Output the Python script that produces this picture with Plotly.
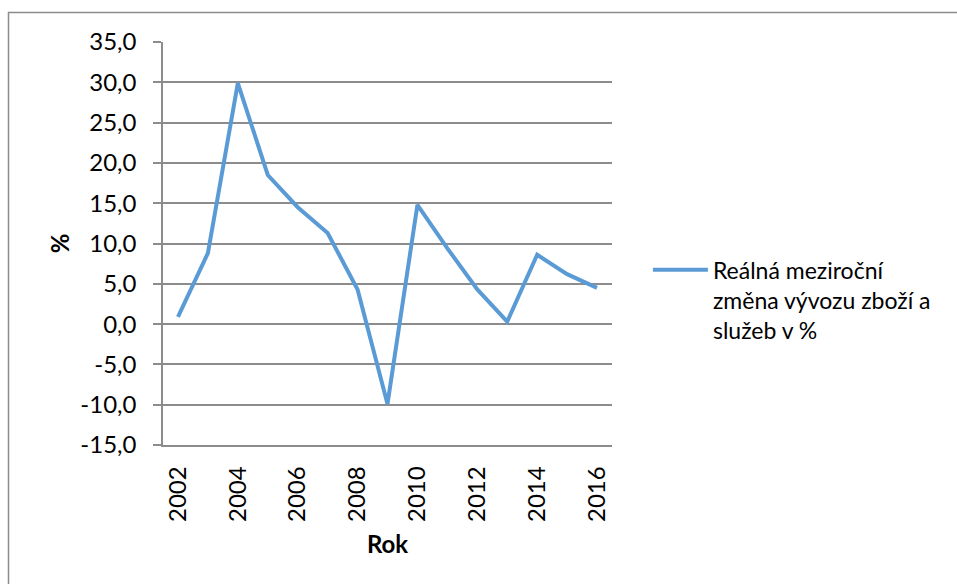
import plotly.graph_objects as go

years = list(range(2002, 2017))
values = [0.9, 8.8, 29.9, 18.5, 14.5, 11.3, 4.3, -9.9, 14.8, 9.4, 4.3, 0.3, 8.6, 6.2, 4.5]
series_name = "Reálná meziroční<br>změna vývozu zboží a<br>služeb v %"
y_ticks = [35, 30, 25, 20, 15, 10, 5, 0, -5, -10, -15]
y_tick_text = [f"{v:.1f}".replace(".", ",") for v in y_ticks]
x_ticks = list(range(2002, 2017, 2))

W, H = 957, 584
L, R, T, B = 163, 612, 42, 445
FONT = "Lato"

fig = go.Figure()
fig.add_trace(go.Scatter(
    x=years, y=values, mode="lines", name=series_name,
    line=dict(color="#5B9BD5", width=4),
    showlegend=True,
))

grid = "#8c8c8c"
fig.update_layout(
    width=W, height=H,
    margin=dict(l=L, r=W - R, t=T, b=H - B, pad=0),
    paper_bgcolor="white", plot_bgcolor="white",
    font=dict(family=FONT, size=24, color="#000000"),
    showlegend=True,
    legend=dict(x=1.08, y=0.488, xanchor="left", yanchor="top",
                valign="top", font=dict(family=FONT, size=23, color="#000000"),
                tracegroupgap=0, itemwidth=55),
    xaxis=dict(range=[2001.5, 2016.5], tickmode="array", tickvals=x_ticks,
               ticktext=[str(v) for v in x_ticks], tickangle=-90,
               showgrid=False, zeroline=False, showline=True, linecolor=grid,
               linewidth=1.5, ticks="", ticklabelstandoff=10,
               title=dict(text="<b>Rok</b>", font=dict(family=FONT, size=24), standoff=15)),
    yaxis=dict(range=[-15, 35], tickmode="array", tickvals=y_ticks, ticktext=y_tick_text,
               showgrid=True, gridcolor=grid, gridwidth=1.5, zeroline=False,
               showline=True, linecolor=grid, linewidth=1.5,
               ticks="outside", ticklen=8, tickcolor=grid, tickwidth=1.5,
               ticklabelstandoff=12,
               title=dict(text="<b>%</b>", font=dict(family=FONT, size=24), standoff=4)),
)

pw, ph = R - L, B - T
def px(xp):
    return (xp - L) / pw
def py(yp):
    return 1 - (yp - T) / ph

fig.add_shape(type="rect", xref="paper", yref="paper",
              x0=px(8.5), y0=py(640), x1=px(1000), y1=py(12.5),
              line=dict(color="#8c8c8c", width=1.5), fillcolor="rgba(0,0,0,0)", layer="below")

fig.write_html("out.html")
